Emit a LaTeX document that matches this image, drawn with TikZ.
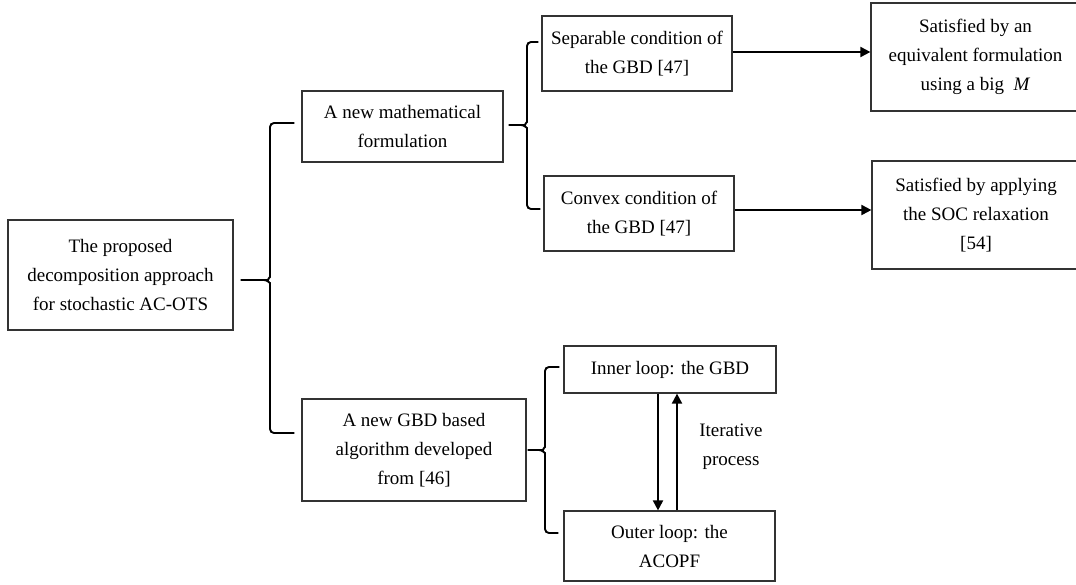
\documentclass[tikz,border=0pt]{standalone}
\usepackage{fontspec}
\setmainfont{Liberation Serif}
\usetikzlibrary{arrows.meta,calc}
% curly bracket: #1 tip, #2 spine, #3 upper end, #4 lower end
\newcommand\curlybracket[4]{%
  \draw[brace] let \p1=(#1), \p2=(#3), \p3=(#4), \p4=(#2) in
    (\x1,\y1) -- (\x4-6pt,\y1) to[out=0,in=-90] (\x4,\y1+7pt) -- (\x4,\y2) -- (\x2,\y2);
  \draw[brace] let \p1=(#1), \p3=(#4), \p4=(#2) in
    (\x4-6pt,\y1) to[out=0,in=90] (\x4,\y1-7pt) -- (\x4,\y3) -- (\x3,\y3);}
\begin{document}
\begin{tikzpicture}[x=1pt,y=-1pt,
  box/.style={draw=black!80,line width=1.2pt,inner sep=0pt,align=center,
    font=\fontsize{19}{29}\selectfont},
  brace/.style={line width=1.9pt,rounded corners=4pt},
  flow/.style={line width=1.9pt,-{Triangle[length=10pt,width=10pt]}},
  lbl/.style={inner sep=0pt,align=center,font=\fontsize{19}{29}\selectfont}]
\useasboundingbox (0,0) rectangle (1076,584);
\begin{scope}
\clip (0,0) rectangle (1076,584);
% boxes
\node[box,minimum width=225pt,minimum height=110pt] (main) at (120.5,275)
  {The proposed\\decomposition approach\\for stochastic AC-OTS};
\node[box,minimum width=201pt,minimum height=71pt] (math) at (402.5,126.5)
  {A new mathematical\\formulation};
\node[box,minimum width=224pt,minimum height=102pt] (gbd) at (414,450)
  {A new GBD based\\algorithm developed\\from [46]};
\node[box,minimum width=190pt,minimum height=75pt] (sep) at (637,53.5)
  {Separable condition of\\the GBD [47]};
\node[box,minimum width=190pt,minimum height=75pt] (conv) at (639,213.5)
  {Convex condition of\\the GBD [47]};
\node[box,minimum width=209pt,minimum height=108pt] (sat1) at (975.5,57)
  {Satisfied by an\\equivalent formulation\\using a big~ \textit{M}};
\node[box,minimum width=208pt,minimum height=108pt] (sat2) at (976,215)
  {Satisfied by applying\\the SOC relaxation\\{}[54]};
\node[box,minimum width=212pt,minimum height=47pt] (inner) at (670,369.5)
  {Inner loop: the GBD};
\node[box,minimum width=211pt,minimum height=70pt] (outer) at (669.5,546)
  {Outer loop: the\\ACOPF};
\node[lbl] (iter) at (731,447) {Iterative\\process};
\end{scope}
% bracket joining the approach to its two parts
\coordinate (t1) at ($(main.east)+(7,5)$);
\coordinate (s1) at (270,0);
\coordinate (u1) at ($(math.west)+(-7,-3.5)$);
\coordinate (l1) at ($(gbd.west)+(-7,-17)$);
\curlybracket{t1}{s1}{u1}{l1}
% bracket joining the formulation to its two conditions
\coordinate (t2) at ($(math.east)+(5,-1.5)$);
\coordinate (s2) at (527,0);
\coordinate (u2) at ($(sep.west)+(-3,-11.5)$);
\coordinate (l2) at ($(conv.west)+(-3,-4.5)$);
\curlybracket{t2}{s2}{u2}{l2}
% bracket joining the algorithm to its two loops
\coordinate (t3) at ($(gbd.east)+(1,0)$);
\coordinate (s3) at (545,0);
\coordinate (u3) at ($(inner.west)+(-4,-2.5)$);
\coordinate (l3) at ($(outer.west)+(-5,-13)$);
\curlybracket{t3}{s3}{u3}{l3}
% arrows
\draw[flow] ([yshift=1.5pt]sep.east) -- ([yshift=1.5pt]sep.east -| sat1.west);
\draw[flow] ([yshift=3.5pt]conv.east) -- ([yshift=3.5pt]conv.east -| sat2.west);
\draw[flow] ([xshift=-12pt]inner.south) -- ([xshift=-12pt]inner.south |- outer.north);
\draw[flow] ([xshift=7pt]inner.south |- outer.north) -- ([xshift=7pt]inner.south);
\end{tikzpicture}
\end{document}
